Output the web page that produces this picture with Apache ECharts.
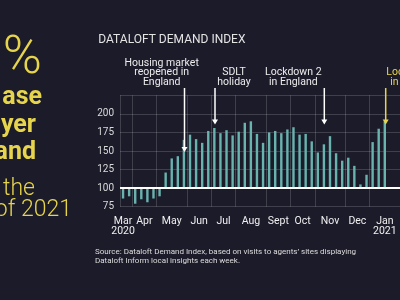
<!DOCTYPE html>
<html>
<head>
<meta charset="utf-8">
<script src="https://cdn.jsdelivr.net/npm/echarts@6/dist/echarts.min.js"></script>
<style>
html,body{margin:0;padding:0;background:#1c1b2a;}
#chart{width:400px;height:300px;}
</style>
</head>
<body>
<div id="chart"></div>
<script>
// weeks (ending Sunday), the chart runs on past the right edge
var weeks = ['2020-03-22','2020-03-29',
  '2020-04-05','2020-04-12','2020-04-19','2020-04-26',
  '2020-05-03','2020-05-10','2020-05-17','2020-05-24','2020-05-31',
  '2020-06-07','2020-06-14','2020-06-21','2020-06-28',
  '2020-07-05','2020-07-12','2020-07-19','2020-07-26',
  '2020-08-02','2020-08-09','2020-08-16','2020-08-23','2020-08-30',
  '2020-09-06','2020-09-13','2020-09-20','2020-09-27',
  '2020-10-04','2020-10-11','2020-10-18','2020-10-25',
  '2020-11-01','2020-11-08','2020-11-15','2020-11-22','2020-11-29',
  '2020-12-06','2020-12-13','2020-12-20','2020-12-27',
  '2021-01-03','2021-01-10','2021-01-17','2021-01-24','2021-01-31'];
var demand = [86, 89, 79, 85, 81, 86, 89, 121, 140, 143,
  165, 172, 166, 161, 177, 181, 174, 178, 171, 176,
  188, 190, 173, 161, 175, 177, 174, 179, 182, 172,
  173, 163, 148, 159, 170, 147, 137, 141, 130, 105,
  118, 162, 180, 190];
var monthNames = {'2020-03':'Mar\n2020','2020-04':'Apr','2020-05':'May','2020-06':'Jun',
  '2020-07':'Jul','2020-08':'Aug','2020-09':'Sept','2020-10':'Oct','2020-11':'Nov',
  '2020-12':'Dec','2021-01':'Jan\n2021'};
var yMin = 75, yMax = 225, yStep = 25;

var yellow = '#e6d54c';
var bg = '#1c1b2a';

// month boundaries and month centres, in week units
var bounds = [], centres = [], centreLabel = {};
var prev = null;
weeks.forEach(function (w, i) {
  var m = w.slice(0, 7);
  if (m !== prev) { bounds.push(i); prev = m; }
});
bounds.forEach(function (b, k) {
  var end = k + 1 < bounds.length ? bounds[k + 1] : weeks.length;
  // first month is only partly shown: its label sits on the first week
  var c = k === 0 ? b + 0.5 : (b + end) / 2;
  centres.push(c);
  centreLabel[c] = monthNames[weeks[b].slice(0, 7)];
});

var chart = echarts.init(document.getElementById('chart'));

var font = 'Roboto, "Noto Sans", sans-serif';
function txt(t, x, y, size, opts) {
  opts = opts || {};
  return {
    type: 'text', silent: true, z: 10,
    style: {
      text: t, x: x, y: y,
      fill: opts.fill || '#ececec',
      font: (opts.weight || 'normal') + ' ' + size + 'px ' + font,
      textAlign: opts.align || 'left',
      textVerticalAlign: 'middle',
      lineHeight: opts.lh
    }
  };
}
function arrow(x, tip, color) {
  return [
    { type: 'line', silent: true, z: 10,
      shape: { x1: x, y1: 88, x2: x, y2: tip - 4 },
      style: { stroke: color, lineWidth: 1.5 } },
    { type: 'polygon', silent: true, z: 10,
      shape: { points: [[x - 3, tip - 5], [x + 3, tip - 5], [x, tip]] },
      style: { fill: color } }
  ];
}

var option = {
  backgroundColor: bg,
  animation: false,
  grid: { left: 120, top: 95.3, bottom: 93.3, right: 400 - 120 - weeks.length * 6.358 },
  xAxis: [{
    type: 'category', data: weeks, boundaryGap: true,
    axisLine: { show: false }, axisTick: { show: false },
    axisLabel: { show: false }, splitLine: { show: false }
  }, {
    type: 'value', min: 0, max: weeks.length, position: 'bottom',
    axisLine: { show: false },
    axisTick: { show: false, customValues: bounds },
    splitLine: { show: true, lineStyle: { color: 'rgba(255,255,255,0.16)', width: 1 } },
    axisLabel: {
      customValues: centres, color: '#f0f0f0', fontSize: 10.5, fontFamily: font,
      lineHeight: 9.5, margin: 10, hideOverlap: false,
      showMinLabel: true, showMaxLabel: true,
      formatter: function (v) { return centreLabel[v] || ''; }
    }
  }],
  yAxis: {
    type: 'value', min: yMin, max: yMax, interval: yStep,
    axisLine: { show: false }, axisTick: { show: false },
    splitLine: { lineStyle: { color: 'rgba(255,255,255,0.16)', width: 1 } },
    axisLabel: {
      color: '#dadada', fontSize: 10, fontFamily: font, margin: 6,
      formatter: function (v) { return v === yMax ? '' : v; }
    }
  },
  series: [{
    name: 'base', type: 'bar', stack: 'd', silent: true,
    barWidth: 2.4,
    itemStyle: { color: 'rgba(0,0,0,0)' },
    data: demand.map(function (v) { return Math.min(v, 100); })
  }, {
    name: 'Demand', type: 'bar', stack: 'd',
    barWidth: 2.4,
    itemStyle: { color: '#68b3ae' },
    data: demand.map(function (v) { return Math.abs(v - 100); }),
    markLine: {
      silent: true, symbol: 'none', label: { show: false },
      lineStyle: { color: '#ffffff', width: 2, type: 'solid' },
      data: [{ yAxis: 100 }]
    }
  }],
  graphic: [
    txt('DATALOFT DEMAND INDEX', 98.3, 40, 12, { fill: '#e4e4e4' }),
    txt('Housing market\nreopened in\nEngland', 161.7, 72.7, 10.5, { align: 'center', lh: 9.6 }),
    txt('SDLT\nholiday', 234, 77.5, 10.5, { align: 'center', lh: 9.6 }),
    txt('Lockdown 2\nin England', 293.3, 77.5, 10.5, { align: 'center', lh: 9.6 }),
    txt('Lockdown 3\nin England', 414.5, 77.5, 10.5, { align: 'center', lh: 9.6, fill: yellow }),
    txt('Source: Dataloft Demand Index, based on visits to agents\u2019 sites displaying\nDataloft Inform local insights each week.',
      95, 256.6, 8, { fill: '#dcdcdc', lh: 8.7 }),
    txt('0%', 42, 60, 53, { fill: yellow, weight: '300', align: 'right' }),
    txt('ase', 42, 98, 25, { fill: yellow, weight: 'bold', align: 'right' }),
    txt('yer', 36, 126, 25, { fill: yellow, weight: 'bold', align: 'right' }),
    txt('and', 36, 153, 25, { fill: yellow, weight: 'bold', align: 'right' }),
    txt('the', 35, 189, 23, { fill: yellow, weight: '300', align: 'right' }),
    txt('of 2021', 72, 210, 23, { fill: yellow, weight: '300', align: 'right' })
  ].concat(arrow(184.5, 152, '#ffffff'))
   .concat(arrow(215, 124.5, '#ffffff'))
   .concat(arrow(324.3, 124.5, '#ffffff'))
   .concat(arrow(385.7, 124.5, yellow))
};

chart.setOption(option);
window.addEventListener('resize', chart.resize);
</script>
</body>
</html>
